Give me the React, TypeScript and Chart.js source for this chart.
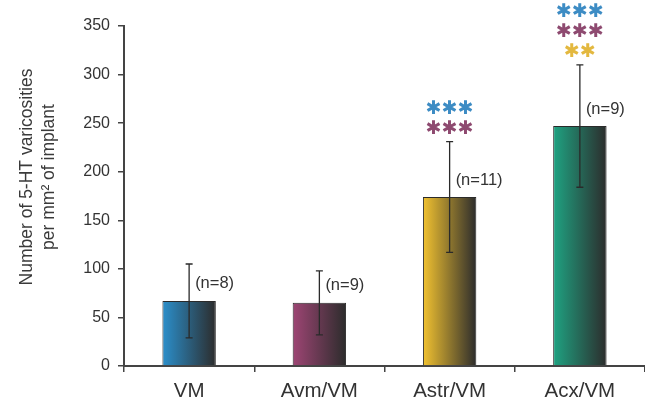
import React, { useEffect, useRef } from 'react';
import { Chart, registerables } from 'chart.js';

Chart.register(...registerables);

const categories = ['VM', 'Avm/VM', 'Astr/VM', 'Acx/VM'];
const means = [67, 65, 174, 247];
const errors = [38, 33, 57, 63];
const nLabels = ['(n=8)', '(n=9)', '(n=11)', '(n=9)'];
const barColors = ['#2b8fcb', '#9e4574', '#f2c230', '#1fa382'];
const starBlue = '#3d8cc4';
const starPurple = '#8e4a70';
const starYellow = '#e3b83f';
const starRows = [
  [],
  [],
  [
    { color: starPurple, count: 3 },
    { color: starBlue, count: 3 },
  ],
  [
    { color: starYellow, count: 2 },
    { color: starPurple, count: 3 },
    { color: starBlue, count: 3 },
  ],
];
const yTicksMax = 350;
const yStep = 50;
const yTitle = ['Number of 5-HT varicosities', 'per mm² of implant'];

const FONT = '"Liberation Sans", Arial, sans-serif';
const BAR_PCT = 0.41;

export default function App() {
  const ref = useRef<HTMLCanvasElement>(null);
  useEffect(() => {
    document.body.style.margin = '0';
    const canvas = ref.current!;
    const overlay = {
      id: 'overlay',
      afterDatasetsDraw(chart: any) {
        const { ctx, scales } = chart;
        const x = scales.x;
        const y = scales.y;
        ctx.save();
        // y title
        ctx.save();
        ctx.translate(0, 177);
        ctx.rotate(-Math.PI / 2);
        ctx.fillStyle = '#3a3a3a';
        ctx.font = `17.5px ${FONT}`;
        ctx.textAlign = 'center';
        ctx.textBaseline = 'middle';
        ctx.fillText(yTitle[0], 0, 27);
        ctx.fillText(yTitle[1], 0, 49);
        ctx.restore();
        means.forEach((m, i) => {
          const cx = x.getPixelForValue(i);
          const top = y.getPixelForValue(m + errors[i]);
          const bot = y.getPixelForValue(m - errors[i]);
          ctx.strokeStyle = '#2a2a2a';
          ctx.lineWidth = 1.3;
          ctx.beginPath();
          ctx.moveTo(cx, top);
          ctx.lineTo(cx, bot);
          ctx.moveTo(cx - 3.5, top);
          ctx.lineTo(cx + 3.5, top);
          ctx.moveTo(cx - 3.5, bot);
          ctx.lineTo(cx + 3.5, bot);
          ctx.stroke();
          // n label
          const barTop = y.getPixelForValue(m);
          ctx.fillStyle = '#333';
          ctx.font = `16.5px ${FONT}`;
          ctx.textAlign = 'left';
          ctx.textBaseline = 'middle';
          ctx.fillText(nLabels[i], cx + 6, barTop - 17);
          // stars
          ctx.font = `19px "DejaVu Sans", sans-serif`;
          ctx.textAlign = 'center';
          starRows[i].forEach((row: any, r: number) => {
            const sy = top - 13 - r * 20;
            ctx.fillStyle = row.color;
            for (let k = 0; k < row.count; k++) {
              const sx = cx + (k - (row.count - 1) / 2) * 16;
              ctx.fillText('✱', sx, sy);
            }
          });
        });
        ctx.restore();
      },
    };
    const chart = new Chart(canvas, {
      type: 'bar',
      data: {
        labels: categories,
        datasets: [
          {
            data: means,
            borderColor: '#2a2a2a',
            borderWidth: 1,
            borderSkipped: 'bottom',
            barPercentage: BAR_PCT,
            categoryPercentage: 1,
            backgroundColor: (c: any) => {
              const ch = c.chart;
              const xs = ch.scales?.x;
              const col = barColors[c.dataIndex] || '#888';
              if (!xs || !ch.chartArea || c.dataIndex === undefined) return col;
              const cx = xs.getPixelForValue(c.dataIndex);
              const half = (xs.width / categories.length) * BAR_PCT / 2;
              const g = ch.ctx.createLinearGradient(cx - half, 0, cx + half, 0);
              g.addColorStop(0, col);
              g.addColorStop(1, '#2c2c2c');
              return g;
            },
          },
        ],
      },
      options: {
        animation: false,
        responsive: false,
        maintainAspectRatio: false,
        layout: { padding: { top: 26, right: 0, left: 0, bottom: 0 } },
        plugins: { legend: { display: false }, tooltip: { enabled: false } },
        scales: {
          x: {
            offset: true,
            grid: {
              display: true,
              offset: true,
              drawOnChartArea: false,
              drawTicks: true,
              tickLength: 6,
              color: '#444',
              lineWidth: 1.5,
            },
            border: { display: true, color: '#444', width: 2 },
            ticks: { color: '#333', font: { family: FONT, size: 20.5 }, padding: 7 },
            afterFit: (s: any) => {
              s.height = 38;
            },
          },
          y: {
            min: 0,
            max: yTicksMax,
            ticks: { stepSize: yStep, color: '#333', font: { family: FONT, size: 16 }, padding: 8 },
            grid: {
              display: true,
              drawOnChartArea: false,
              drawTicks: true,
              tickLength: 6,
              color: '#444',
              lineWidth: 1.5,
            },
            border: { display: true, color: '#444', width: 2 },
            afterFit: (s: any) => {
              s.width = 124;
            },
          },
        },
      },
      plugins: [overlay],
    });
    return () => chart.destroy();
  }, []);
  return (
    <div style={{ width: 645, height: 404 }}>
      <canvas ref={ref} width={645} height={404} style={{ display: 'block' }} />
    </div>
  );
}
